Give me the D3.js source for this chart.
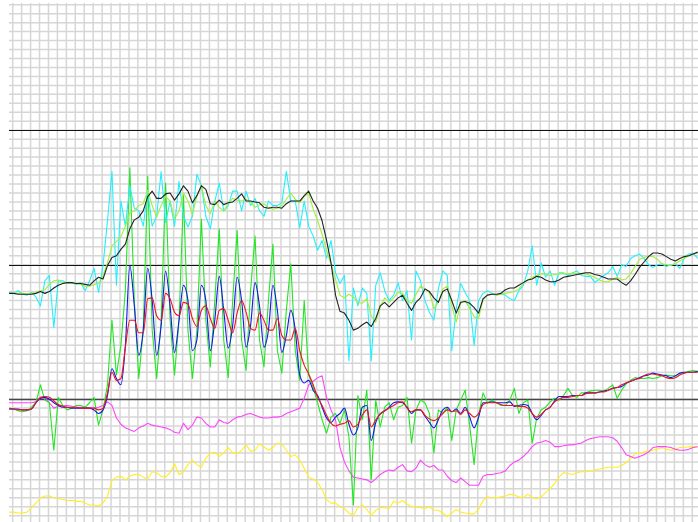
<!DOCTYPE html>
<html>
<head>
<meta charset="utf-8">
<script src="https://cdn.jsdelivr.net/npm/d3@7"></script>
<style>
  html, body { margin: 0; padding: 0; background: #fff; }
  svg { display: block; }
</style>
</head>
<body>
<svg id="chart" width="698" height="522"></svg>
<script>
// samples are taken every half grid column, starting just left of the first column
const t0 = -0.4;
const dt = 0.5;

// grid columns / rows (in chart units) and the three reference levels
const gridCols = d3.range(0, 77);
const gridRows = d3.range(-13, 45);
const refLevels = [30, 15, 0];

const cyan = [
  11.9, 11.8, 12.1, 11.7, 11.6, 11.9, 11.4, 10.4, 13.2, 13.8,
  8.0, 13.2, 13.2, 12.9, 13.0, 12.8, 13.0, 12.1, 13.2, 14.6,
  11.9, 14.9, 19.9, 25.4, 12.7, 22.1, 19.3, 23.8, 21.3, 21.0,
  19.3, 23.2, 19.3, 20.4, 25.4, 19.7, 22.1, 19.3, 24.3, 20.4,
  19.2, 20.4, 25.1, 23.8, 20.4, 19.0, 22.1, 24.1, 21.0, 21.6,
  23.2, 23.2, 21.0, 23.2, 21.6, 22.4, 21.0, 20.4, 22.1, 21.6,
  21.6, 21.9, 25.4, 22.1, 22.1, 19.1, 22.1, 19.3, 18.2, 16.6,
  17.7, 15.7, 17.7, 14.1, 12.9, 13.8, 4.3, 12.4, 10.4, 12.4,
  11.8, 4.3, 12.7, 14.1, 12.1, 11.0, 11.6, 13.0, 11.0, 12.1,
  6.6, 14.3, 13.2, 11.0, 9.7, 8.8, 12.3, 14.3, 13.8, 5.4,
  10.1, 12.9, 11.9, 11.0, 6.0, 11.0, 11.8, 12.1, 11.8, 11.6,
  11.8, 11.6, 11.2, 11.0, 12.1, 12.7, 14.3, 17.1, 12.7, 15.2,
  13.6, 14.3, 12.7, 14.1, 14.1, 13.8, 14.1, 14.3, 13.8, 13.7,
  13.7, 13.0, 13.4, 13.8, 14.1, 14.8, 13.7, 15.0, 14.8, 15.7,
  16.0, 16.2, 15.7, 15.0, 14.7, 15.0, 15.1, 14.8, 15.0, 15.1,
  14.6, 15.7, 16.2, 16.3, 15.7
];

const lime = [
  11.8, 11.8, 11.8, 11.8, 11.7, 11.8, 11.9, 12.1, 12.2, 12.8,
  13.2, 13.3, 13.0, 13.0, 12.9, 12.9, 12.8, 12.6, 12.6, 12.8,
  12.9, 13.8, 15.2, 17.1, 17.6, 18.1, 19.3, 20.8, 21.0, 21.6,
  21.8, 23.3, 21.6, 20.3, 21.6, 22.6, 22.1, 20.1, 21.0, 23.0,
  22.1, 20.6, 22.7, 23.8, 21.6, 20.7, 22.1, 21.4, 21.0, 21.8,
  22.4, 22.2, 22.1, 22.3, 22.0, 21.4, 21.7, 21.8, 21.4, 21.2,
  21.3, 21.6, 22.3, 23.0, 22.3, 21.9, 22.6, 23.0, 21.2, 19.9,
  18.4, 16.6, 15.0, 13.4, 11.6, 11.3, 11.7, 11.4, 10.8, 10.7,
  11.2, 9.3, 8.6, 10.3, 11.3, 10.8, 11.3, 11.9, 11.8, 11.0,
  10.7, 11.7, 12.6, 12.3, 11.9, 10.1, 10.8, 12.3, 12.6, 10.4,
  8.6, 10.7, 11.0, 10.1, 9.2, 9.0, 11.1, 11.7, 11.7, 11.6,
  11.7, 11.8, 11.9, 12.0, 12.3, 12.9, 13.3, 13.6, 13.8, 14.0,
  13.9, 13.8, 13.9, 14.0, 14.0, 14.0, 14.0, 14.0, 14.0, 14.0,
  13.8, 13.6, 13.3, 13.1, 13.1, 13.4, 13.6, 13.3, 13.4, 14.0,
  14.8, 15.6, 15.8, 16.0, 15.9, 15.6, 15.1, 15.0, 14.9, 15.1,
  15.4, 15.7, 16.0, 16.2, 16.3
];

const black = [
  11.8, 11.8, 11.7, 11.7, 11.7, 11.7, 11.8, 12.0, 11.8, 12.0,
  12.4, 12.7, 12.9, 13.0, 13.0, 12.9, 12.9, 12.8, 12.7, 13.2,
  13.6, 13.4, 14.9, 15.8, 16.0, 16.7, 17.3, 19.0, 20.0, 20.3,
  21.0, 22.6, 23.2, 22.4, 22.4, 22.9, 23.0, 22.2, 22.9, 23.8,
  23.2, 21.9, 22.7, 23.8, 23.4, 21.8, 21.7, 22.2, 21.7, 21.9,
  22.0, 22.4, 22.9, 22.1, 22.1, 22.0, 21.9, 21.4, 21.3, 21.4,
  21.4, 21.3, 21.8, 22.1, 22.1, 22.1, 22.7, 23.2, 22.1, 21.3,
  19.9, 17.7, 15.2, 11.6, 9.8, 9.6, 8.8, 7.7, 7.9, 8.3,
  8.6, 8.1, 9.0, 10.4, 10.8, 10.3, 10.8, 11.3, 11.6, 10.7,
  9.9, 10.8, 11.3, 12.3, 12.0, 11.3, 10.8, 12.0, 12.3, 11.0,
  9.6, 10.8, 10.9, 10.7, 10.2, 9.6, 11.2, 11.6, 11.7, 11.7,
  11.8, 12.2, 12.4, 12.4, 12.7, 13.0, 13.3, 13.4, 13.7, 13.6,
  13.3, 13.1, 13.1, 13.3, 13.6, 13.7, 13.8, 13.9, 14.0, 14.1,
  14.1, 13.9, 13.8, 13.6, 13.4, 13.4, 13.4, 13.0, 12.7, 13.2,
  13.9, 14.7, 15.3, 15.9, 16.3, 16.3, 16.2, 15.9, 15.6, 15.4,
  15.7, 15.9, 16.0, 16.2, 16.4
];

const green = [
  -1.0, -1.1, -1.3, -1.4, -1.3, -0.9, -0.4, 1.6, -0.1, -0.4,
  -5.7, 0.2, -0.7, -1.2, -1.0, -0.7, -0.7, -0.9, -0.4, 0.2,
  -2.9, -1.2, 1.6, 8.8, 2.7, 6.0, 12.1, 25.8, 11.0, 2.3,
  7.7, 24.9, 7.7, 2.3, 8.8, 24.1, 8.8, 2.7, 8.8, 22.7,
  7.7, 2.3, 7.7, 20.1, 8.8, 3.6, 11.0, 19.0, 6.6, 2.4,
  11.0, 18.8, 6.6, 3.2, 12.1, 18.2, 6.6, 3.6, 11.0, 17.3,
  5.4, 2.9, 9.9, 15.1, 5.4, 2.1, 11.0, 2.7, 1.3, -0.4,
  -2.3, -3.8, -2.0, -1.6, -2.7, -1.2, -4.2, -11.8, 0.4, -2.3,
  1.0, -9.0, -0.1, -3.1, -0.9, -0.4, -2.3, -0.9, -0.7, 0.2,
  -4.9, -1.2, -0.1, -0.4, -1.6, -6.0, -1.2, -1.6, -0.9, -4.6,
  -1.2, -0.1, 1.0, -2.9, -7.3, -1.8, 0.7, -0.4, -0.1, -0.4,
  -0.7, -0.7, -0.1, 1.2, -1.6, -0.4, -0.1, -4.9, -2.1, -1.2,
  -0.9, -0.3, 0.1, -0.1, 0.4, 1.2, 0.4, 0.2, 0.7, 0.7,
  0.9, 1.0, 1.0, 0.9, 1.2, 1.6, 0.1, 1.0, 1.7, 2.1,
  2.4, 2.3, 2.3, 2.4, 2.3, 2.4, 2.6, 2.7, 2.6, 2.6,
  2.9, 2.9, 3.1, 3.2, 3.1
];

const blue = [
  -1.1, -1.1, -1.1, -1.2, -1.2, -1.1, -0.4, 0.1, 0.2, 0.0,
  -0.4, -0.7, -0.9, -0.9, -1.0, -1.0, -1.0, -1.0, -1.0, -1.2,
  -1.6, -1.2, 0.4, 3.4, 2.3, 1.6, 6.0, 14.9, 10.4, 4.9,
  7.7, 14.6, 11.0, 4.9, 8.2, 14.3, 10.4, 5.2, 8.8, 12.7,
  11.0, 5.4, 6.6, 12.7, 11.0, 5.4, 8.8, 13.7, 9.9, 5.7,
  8.2, 13.6, 11.0, 5.8, 8.2, 13.0, 10.4, 5.8, 7.7, 12.7,
  9.9, 5.2, 7.1, 9.9, 7.7, 2.7, 1.8, 2.1, 1.0, 0.4,
  -0.9, -2.1, -2.6, -2.0, -1.6, -1.0, -2.8, -4.0, -3.2, -0.9,
  -0.7, -4.6, -2.6, -1.6, -1.3, -0.9, -0.4, -0.3, -0.4, -0.9,
  -1.6, -1.2, -1.2, -1.9, -2.6, -3.2, -2.3, -1.2, -0.9, -1.4,
  -1.1, -1.6, -0.9, -2.0, -3.2, -2.0, -0.4, -0.4, -0.3, -0.4,
  -0.4, -0.4, -0.3, -0.8, -0.7, -0.6, -0.7, -1.6, -2.3, -1.8,
  -1.2, -0.9, -0.2, 0.3, 0.3, 0.3, 0.4, 0.4, 0.4, 0.7,
  0.7, 0.7, 0.8, 0.9, 1.0, 1.2, 1.3, 1.4, 1.8, 2.0,
  2.2, 2.4, 2.6, 2.7, 2.9, 2.8, 2.7, 2.6, 2.4, 2.6,
  2.9, 3.0, 3.0, 3.0, 3.1
];

const red = [
  -1.1, -1.1, -1.2, -1.2, -1.2, -1.1, -0.4, 0.2, 0.3, 0.2,
  -0.2, -0.6, -0.8, -0.9, -0.9, -0.9, -1.0, -1.0, -1.0, -1.0,
  -1.2, -1.0, 0.7, 3.0, 2.1, 2.3, 5.8, 8.8, 8.8, 7.4,
  7.4, 11.2, 11.3, 9.3, 8.8, 11.8, 11.2, 9.7, 9.3, 10.8,
  10.6, 9.0, 8.1, 9.9, 10.4, 9.0, 7.9, 9.9, 10.1, 8.8,
  7.4, 9.6, 11.0, 9.7, 7.9, 7.7, 9.6, 8.8, 7.7, 7.7,
  9.0, 7.1, 6.6, 6.6, 7.9, 5.4, 3.8, 2.8, 1.6, 0.2,
  -0.7, -1.8, -2.7, -3.0, -2.8, -2.7, -2.4, -3.1, -2.8, -1.8,
  -1.2, -3.1, -2.3, -1.7, -1.3, -1.0, -0.7, -0.4, -0.3, -1.0,
  -1.4, -1.2, -1.2, -1.8, -2.2, -2.4, -2.1, -1.6, -1.2, -1.4,
  -1.3, -1.7, -1.2, -1.6, -2.0, -1.6, -0.6, -0.4, -0.4, -0.4,
  -0.6, -0.7, -0.7, -0.7, -0.8, -0.8, -1.0, -1.6, -2.0, -1.7,
  -1.2, -0.9, -0.3, 0.0, 0.2, 0.2, 0.3, 0.4, 0.4, 0.6,
  0.7, 0.7, 0.8, 0.8, 1.0, 1.2, 1.3, 1.6, 1.8, 2.0,
  2.2, 2.3, 2.6, 2.8, 2.8, 2.7, 2.6, 2.4, 2.3, 2.4,
  2.7, 2.9, 3.0, 3.0, 3.0
];

const magenta = [
  -0.4, -0.4, -0.4, -0.4, -0.4, -0.4, -0.3, 0.1, 0.2, -0.4,
  -1.0, -0.8, -0.7, -0.7, -0.8, -0.9, -0.9, -0.9, -1.0, -1.0,
  -0.9, -0.7, -0.3, -0.7, -2.1, -2.8, -3.2, -3.4, -3.6, -3.2,
  -3.0, -2.7, -2.9, -3.0, -3.1, -3.2, -3.4, -3.7, -3.8, -2.7,
  -3.4, -2.9, -2.0, -2.1, -2.7, -3.1, -3.1, -2.3, -2.6, -2.7,
  -2.3, -2.0, -1.9, -1.7, -1.6, -1.8, -2.0, -2.1, -2.1, -2.0,
  -2.0, -1.9, -1.6, -1.4, -1.2, -1.0, 0.1, 1.6, 2.0, 2.4,
  2.6, 0.2, -1.2, -2.3, -5.4, -7.0, -8.0, -8.7, -8.8, -8.9,
  -9.0, -9.3, -8.9, -8.4, -8.1, -7.9, -8.0, -7.6, -7.3, -8.0,
  -8.1, -7.7, -6.8, -7.3, -7.6, -7.4, -7.9, -7.9, -8.6, -9.1,
  -9.3, -8.8, -9.2, -9.6, -9.6, -9.6, -8.6, -8.4, -8.4, -8.3,
  -8.2, -8.0, -7.4, -7.0, -6.8, -6.4, -5.9, -5.3, -4.9, -4.8,
  -4.6, -4.8, -5.3, -5.3, -5.2, -5.1, -5.1, -5.0, -4.9, -4.6,
  -4.4, -4.3, -4.2, -4.2, -4.2, -4.3, -4.7, -5.4, -6.2, -6.4,
  -6.6, -6.4, -6.2, -5.9, -5.4, -5.3, -5.3, -5.3, -5.4, -5.6,
  -5.7, -5.7, -5.6, -5.4, -5.3
];

const yellow = [
  -12.6, -12.6, -12.7, -12.7, -12.6, -12.1, -11.6, -11.0, -10.8, -10.8,
  -11.0, -11.1, -11.2, -11.3, -11.3, -11.4, -11.4, -11.6, -11.8, -11.8,
  -11.9, -11.6, -10.8, -9.1, -8.7, -8.6, -9.0, -8.6, -8.4, -8.4,
  -8.7, -8.9, -8.1, -8.2, -8.6, -8.7, -8.2, -7.2, -8.4, -8.1,
  -7.3, -6.8, -7.3, -7.6, -6.6, -6.0, -5.9, -6.4, -6.0, -5.4,
  -6.0, -6.1, -5.7, -5.1, -5.8, -5.7, -5.0, -5.3, -5.7, -5.4,
  -4.9, -5.0, -5.7, -6.4, -6.2, -6.8, -7.7, -8.7, -8.9, -9.3,
  -10.1, -11.2, -11.6, -11.6, -12.0, -12.2, -12.7, -13.0, -12.1, -11.8,
  -12.3, -13.0, -12.4, -12.1, -12.1, -12.2, -11.4, -11.6, -11.3, -11.7,
  -12.0, -12.0, -12.1, -12.2, -12.0, -12.4, -12.4, -12.7, -13.1, -12.7,
  -12.3, -12.6, -12.7, -12.8, -12.8, -12.3, -11.3, -10.9, -11.0, -11.0,
  -10.9, -10.8, -10.6, -10.7, -10.9, -11.0, -10.6, -11.0, -11.1, -10.9,
  -10.4, -10.0, -9.4, -8.7, -8.2, -8.3, -8.4, -8.2, -8.1, -8.1,
  -8.0, -7.9, -7.8, -7.7, -7.6, -7.6, -7.6, -7.4, -7.1, -6.6,
  -6.1, -6.0, -5.9, -5.8, -5.7, -5.6, -5.4, -5.6, -5.7, -5.6,
  -5.4, -5.4, -5.3, -5.3, -5.3
];

// drawing order: bottom first
const series = [
  { name: "yellow",  values: yellow,  color: "#ffee22", curve: d3.curveLinear },
  { name: "magenta", values: magenta, color: "#ff44ff", curve: d3.curveLinear },
  { name: "green",   values: green,   color: "#22e622", curve: d3.curveLinear },
  { name: "blue",    values: blue,    color: "#1414f0", curve: d3.curveMonotoneX },
  { name: "red",     values: red,     color: "#f01414", curve: d3.curveMonotoneX },
  { name: "cyan",    values: cyan,    color: "#22f0ff", curve: d3.curveLinear },
  { name: "lime",    values: lime,    color: "#9ef03a", curve: d3.curveLinear },
  { name: "black",   values: black,   color: "#222222", curve: d3.curveLinear }
];

const svg = d3.select("#chart");
const plot = { left: 9, right: 698, top: 3, bottom: 522 };

const x = d3.scaleLinear().domain([0, 76]).range([12.7, 692.3]);
const y = d3.scaleLinear().domain([-13, 44]).range([515.7, 4.7]);

svg.append("defs").append("clipPath")
    .attr("id", "plot-clip")
  .append("rect")
    .attr("x", plot.left)
    .attr("y", plot.top)
    .attr("width", plot.right - plot.left)
    .attr("height", plot.bottom - plot.top);

// grid
const grid = svg.append("g").attr("class", "grid")
    .attr("stroke", "#d6d6d6")
    .attr("stroke-width", 1.5);

grid.selectAll("line.v")
    .data(gridCols)
    .enter().append("line")
    .attr("class", "v")
    .attr("x1", d => x(d))
    .attr("x2", d => x(d))
    .attr("y1", plot.top)
    .attr("y2", plot.bottom);

grid.selectAll("line.h")
    .data(gridRows)
    .enter().append("line")
    .attr("class", "h")
    .attr("x1", plot.left)
    .attr("x2", plot.right)
    .attr("y1", d => y(d))
    .attr("y2", d => y(d));

// reference levels
svg.append("g").attr("class", "refs")
    .selectAll("line")
    .data(refLevels)
    .enter().append("line")
    .attr("x1", plot.left)
    .attr("x2", plot.right)
    .attr("y1", d => Math.round(y(d)) + 0.5)
    .attr("y2", d => Math.round(y(d)) + 0.5)
    .attr("stroke", (d, i) => i === 2 ? "#444" : "#111")
    .attr("stroke-width", (d, i) => i === 2 ? 1.6 : 1.1);

// traces
const traces = svg.append("g").attr("clip-path", "url(#plot-clip)");

series.forEach(s => {
    const line = d3.line()
        .x((d, i) => x(t0 + i * dt))
        .y(d => y(d))
        .curve(s.curve);

    traces.append("path")
        .datum(s.values)
        .attr("class", "trace " + s.name)
        .attr("fill", "none")
        .attr("stroke", s.color)
        .attr("stroke-width", 1.1)
        .attr("stroke-linejoin", "round")
        .attr("d", line);
});
</script>
</body>
</html>
